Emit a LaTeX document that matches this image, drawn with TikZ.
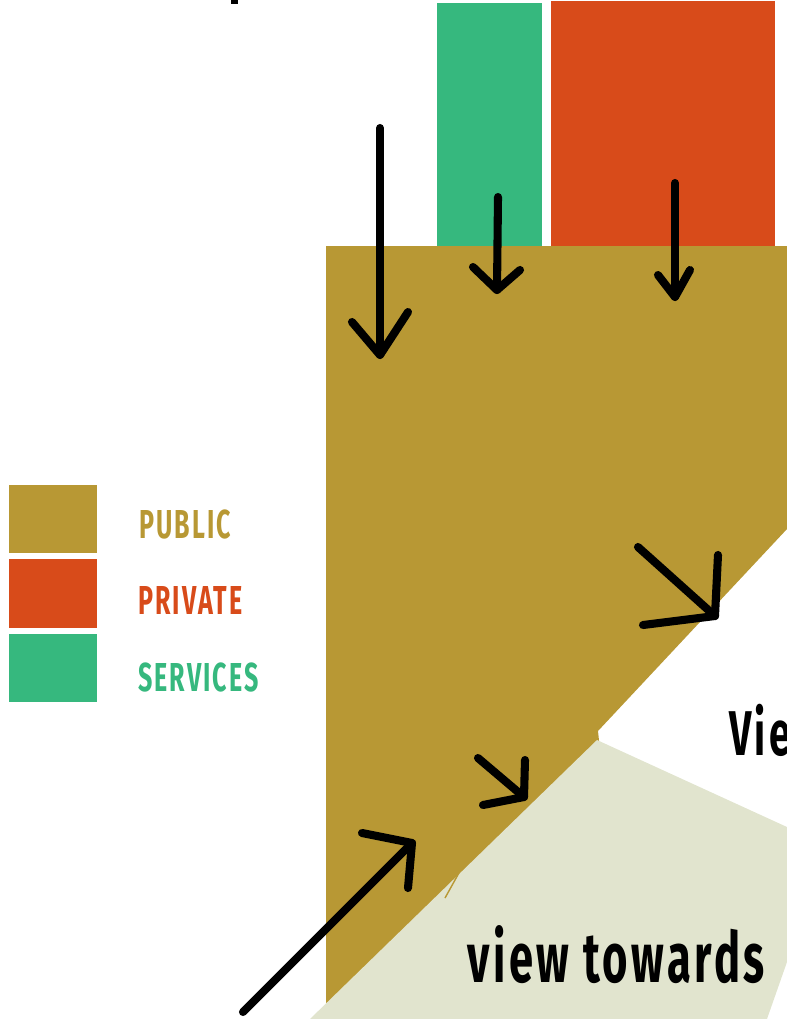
\documentclass[tikz,border=0pt]{standalone}
\usepackage{fontspec}
\usepackage{tikz}
\usetikzlibrary{positioning}
\newfontfamily\condfont[FakeStretch=0.62, LetterSpace=5]{Fira Sans}
\definecolor{zngold}{HTML}{B89834}
\definecolor{znorange}{HTML}{D84B1A}
\definecolor{zngreen}{HTML}{36B87E}
\definecolor{znbeige}{HTML}{E1E4CE}

\begin{document}
\begin{tikzpicture}[
  x=0.02cm, y=-0.02cm,
  pen/.style={line width=4.6pt, line cap=round, line join=round, black},
  key/.style={anchor=base west, inner sep=0pt, font=\condfont\bfseries\fontsize{23}{23}\selectfont},
  big/.style={anchor=base west, inner sep=0pt, font=\condfont\bfseries\fontsize{40}{40}\selectfont},
]
  \useasboundingbox (0,0) rectangle (787,1019);
  \clip (0,0) rectangle (787,1019);

  % Blocks
  \fill[zngreen] (437,3) rectangle (542,246);
  \fill[znorange] (551,1) rectangle (775,248);
  \fill[zngold] (326,246) -- (787,246) -- (787,529) -- (598,731) -- (600,750) -- (480,900) -- (326,1019) -- cycle;
  \fill[znbeige] (310,1019) -- (597,740) -- (787,827) -- (787,962) -- (767,1019) -- cycle;
  \draw[zngold, line width=0.8pt] (445,898) -- (465,862);
  \fill[black] (231,0) rectangle (238,4);

  % Legend
  \fill[zngold] (9,485) rectangle (97,553);
  \fill[znorange] (9,559) rectangle (97,628);
  \fill[zngreen] (9,634) rectangle (97,702);
  \node[key, text=zngold] (pub) at (139,538) {PUBLIC};
  \node[key, text=znorange] (priv) at (138,614) {PRIVATE};
  \node[key, text=zngreen] (serv) at (138,691) {SERVICES};

  % Views
  \node[big, font=\condfont\bfseries\fontsize{36}{36}\selectfont] (vie) at (729,755) {Vie};
  \node[big] (towards) at (467,982) {view towards};

  % Arrows
  \coordinate (a1s) at (380,128); \coordinate (a1t) at (380,355);
  \coordinate (a1l) at (352,322); \coordinate (a1r) at (408,312);
  \coordinate (a2s) at (498,197); \coordinate (a2t) at (497,290);
  \coordinate (a2l) at (473,267); \coordinate (a2r) at (520,270);
  \coordinate (a3s) at (675,183); \coordinate (a3t) at (675,297);
  \coordinate (a3l) at (658,275); \coordinate (a3r) at (690,270);
  \coordinate (a4s) at (638,547); \coordinate (a4t) at (715,616);
  \coordinate (a4l) at (718,555); \coordinate (a4r) at (643,625);
  \coordinate (a5s) at (478,758); \coordinate (a5t) at (524,797);
  \coordinate (a5l) at (525,760); \coordinate (a5r) at (483,805);
  \coordinate (a6s) at (243,1012); \coordinate (a6t) at (412,843);
  \coordinate (a6l) at (362,833); \coordinate (a6r) at (408,888);
  \foreach \n in {a1,a2,a3,a4,a5,a6} {
    \draw[pen] (\n s) -- (\n t);
    \draw[pen] (\n l) -- (\n t) -- (\n r);
  }
\end{tikzpicture}
\end{document}
